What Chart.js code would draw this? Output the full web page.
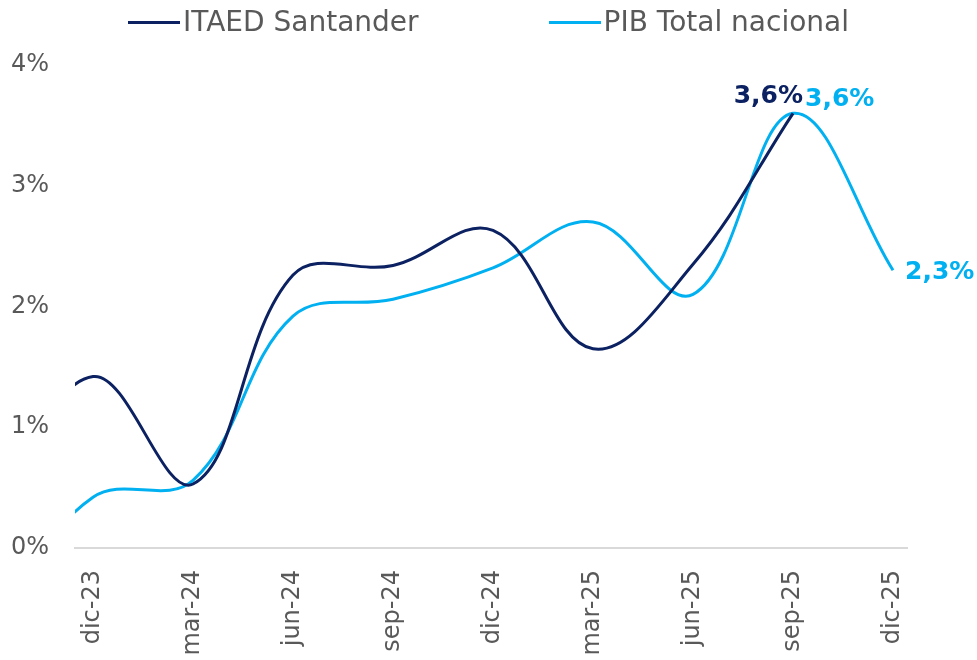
<!DOCTYPE html>
<html>
<head>
<meta charset="utf-8">
<script src="https://cdn.jsdelivr.net/npm/chart.js@4.4.1/dist/chart.umd.min.js"></script>
<style>
  html, body { margin: 0; padding: 0; background: #fff; }
  .wrap { position: relative; width: 977px; height: 660px; }
  #legend { position: absolute; top: 3px; left: 128px; width: max-content; display: flex; align-items: center;
            line-height: 38px; white-space: nowrap;
            font-family: "DejaVu Sans", sans-serif; font-size: 28px; color: #595959; }
  #legend .item { display: flex; align-items: center; flex-shrink: 0; margin-right: 130px; }
  #legend .swatch { width: 52px; height: 3px; margin-right: 3px; flex-shrink: 0; }
</style>
</head>
<body>
<div class="wrap">
  <canvas id="chart" width="977" height="660"></canvas>
  <div id="legend"></div>
</div>
<script>
// quarters; sep-23 sits just outside the left edge and is clipped
const categories = ["sep-23", "dic-23", "mar-24", "jun-24", "sep-24", "dic-24", "mar-25", "jun-25", "sep-25", "dic-25"];
const itaed = [0.3, 1.42, 0.53, 2.26, 2.34, 2.63, 1.65, 2.35, 3.6, null];
const pib = [-0.6, 0.42, 0.56, 1.92, 2.06, 2.32, 2.7, 2.1, 3.6, 2.3];
const yTicks = [0, 1, 2, 3, 4];

const NAVY = "#0b2161";
const CYAN = "#00b0f0";
const GREY = "#595959";
const FONT = "DejaVu Sans";

const toPoints = (arr) => arr.map((v, i) => ({ x: i - 1, y: v }));

// labels drawn next to selected points
const pointLabels = [
  { ds: 0, idx: 8, text: "3,6%", color: NAVY, align: "right", dx: 10, dy: -17 },
  { ds: 1, idx: 8, text: "3,6%", color: CYAN, align: "left", dx: 12, dy: -14 },
  { ds: 1, idx: 9, text: "2,3%", color: CYAN, align: "left", dx: 12, dy: 2 },
];

const labelPlugin = {
  id: "pointLabels",
  afterDatasetsDraw(chart) {
    const ctx = chart.ctx;
    ctx.save();
    ctx.font = "bold 25px " + FONT;
    ctx.textBaseline = "middle";
    pointLabels.forEach((l) => {
      const el = chart.getDatasetMeta(l.ds).data[l.idx];
      ctx.fillStyle = l.color;
      ctx.textAlign = l.align;
      ctx.fillText(l.text, el.x + l.dx, el.y + l.dy);
    });
    ctx.restore();
  },
};

const chart = new Chart(document.getElementById("chart"), {
  type: "line",
  data: {
    datasets: [
      {
        label: "ITAED Santander",
        data: toPoints(itaed),
        borderColor: NAVY,
        backgroundColor: NAVY,
        borderWidth: 3,
        pointRadius: 0,
        tension: 0.38,
      },
      {
        label: "PIB Total nacional",
        data: toPoints(pib),
        borderColor: CYAN,
        backgroundColor: CYAN,
        borderWidth: 3,
        pointRadius: 0,
        tension: 0.38,
      },
    ],
  },
  options: {
    responsive: false,
    animation: false,
    layout: { padding: { top: 65, right: 70, left: 0, bottom: 0 } },
    plugins: { legend: { display: false }, tooltip: { enabled: false } },
    scales: {
      x: {
        type: "linear",
        min: -0.18,
        max: 8.14,
        grid: { display: false },
        border: { display: true, color: "#d9d9d9", width: 2 },
        afterBuildTicks: (s) => {
          s.ticks = categories.slice(1).map((_, i) => ({ value: i }));
        },
        afterFit: (s) => { s.height = 112; },
        ticks: {
          autoSkip: false,
          minRotation: 90,
          maxRotation: 90,
          padding: 14,
          color: GREY,
          font: { family: FONT, size: 24 },
          callback: (v) => categories[v + 1],
        },
      },
      y: {
        min: 0,
        max: 4,
        grid: { display: false },
        border: { display: false },
        afterBuildTicks: (s) => { s.ticks = yTicks.map((v) => ({ value: v })); },
        afterFit: (s) => { s.width = 75; },
        ticks: {
          padding: 18,
          color: GREY,
          font: { family: FONT, size: 24 },
          callback: (v) => v + "%",
        },
      },
    },
  },
  plugins: [labelPlugin],
});

// legend built from the datasets
const legend = document.getElementById("legend");
chart.data.datasets.forEach((d) => {
  const item = document.createElement("div");
  item.className = "item";
  const sw = document.createElement("span");
  sw.className = "swatch";
  sw.style.background = d.borderColor;
  const tx = document.createElement("span");
  tx.textContent = d.label;
  item.appendChild(sw);
  item.appendChild(tx);
  legend.appendChild(item);
});
</script>
</body>
</html>
